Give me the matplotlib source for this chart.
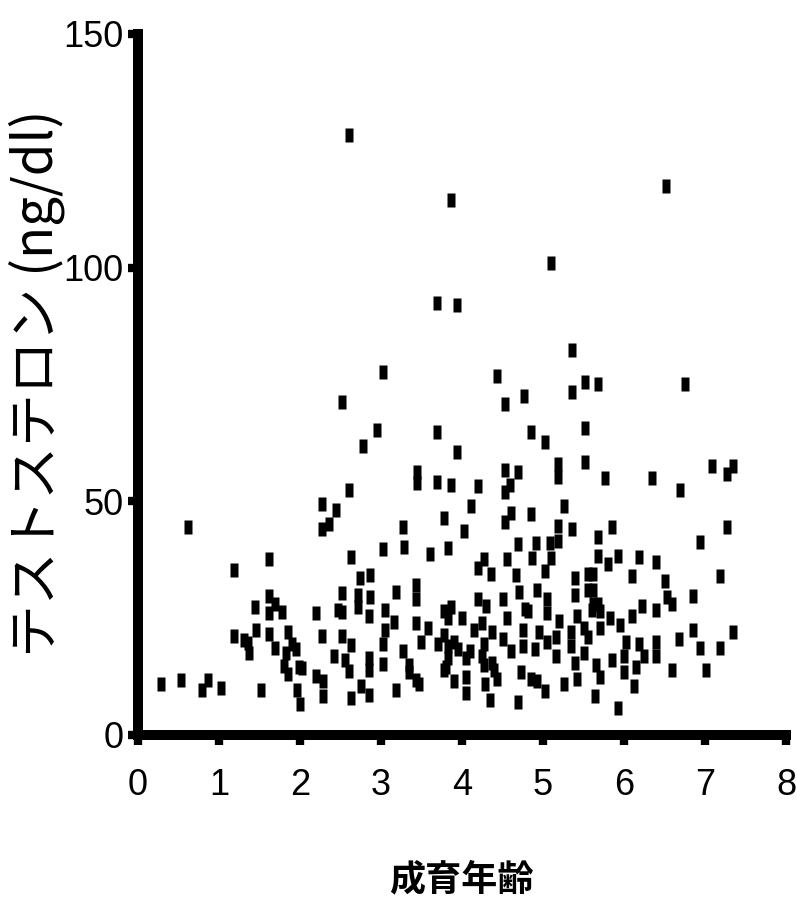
import matplotlib
matplotlib.use("Agg")
import matplotlib.pyplot as plt
import matplotlib.font_manager as fm

# ---- data ----
age = [
    2.60, 3.86, 3.69, 3.94, 3.02, 2.52, 2.95, 3.69, 2.78, 3.94, 3.44, 3.44, 3.69, 3.86, 2.60,
    6.52, 5.10, 5.36, 4.43, 5.52, 5.68, 6.75, 5.36, 4.77, 4.53, 4.85, 5.52, 5.02, 5.52, 5.19,
    5.19, 7.09, 7.35, 7.27, 4.53, 4.69, 5.77, 6.35, 4.20, 4.59, 4.53, 6.69,
    2.27, 2.44, 4.11, 4.60, 4.85, 3.78, 2.36, 2.27, 4.53, 3.27, 4.02, 0.62, 5.26, 5.19, 5.19,
    5.36, 5.85, 5.68, 7.27, 6.94, 5.09, 4.91,
    2.63, 1.62, 1.19, 3.02, 3.28, 3.60, 3.83, 4.69, 4.87, 5.10, 5.68, 4.27, 4.20, 4.36, 4.55,
    4.67, 5.02, 5.40, 5.55, 5.40, 5.55, 5.80, 5.93, 6.18, 6.10, 6.40, 6.50, 5.62, 5.62, 7.19,
    2.74, 2.86, 3.43, 3.19, 4.93,
    2.52, 1.62, 1.69, 1.44, 2.47, 2.52, 1.62, 1.78, 2.20, 2.72, 2.86, 2.72, 3.43, 2.85, 3.05,
    3.05, 3.16, 3.43, 3.58, 3.49, 3.78, 3.83, 5.60, 5.68, 4.20, 3.86, 4.00, 4.15, 4.25, 4.30,
    4.37, 4.50, 4.55, 4.70, 4.78, 4.75, 5.05, 4.82, 5.05, 5.20, 5.16, 5.34, 5.42, 5.50, 5.55,
    3.78, 3.90, 4.95, 5.05, 4.50, 6.53, 6.85, 6.59, 5.62, 5.70, 5.83, 5.70, 6.10, 6.22, 6.40,
    5.95, 6.02, 6.40, 6.68, 6.85, 7.35, 1.46, 1.19, 1.31, 1.62, 1.85, 2.27, 2.52, 3.02,
    1.36, 1.37, 1.69, 1.83, 1.95, 1.90, 1.80, 1.85, 1.99, 2.63, 2.42, 2.55, 2.60, 2.85, 2.85,
    3.02, 3.27, 3.35, 3.35, 3.47, 3.70, 3.78, 3.83, 3.83, 2.02, 3.95, 4.05, 4.10, 4.25, 4.37,
    4.27, 4.60, 4.75, 4.90, 3.80, 3.90, 4.05, 4.27, 4.40, 4.43, 4.73, 4.85, 4.92, 5.16, 5.34,
    5.40, 5.42, 5.50, 5.65, 6.00, 6.18, 6.25, 6.15, 6.40, 6.94, 7.19, 5.70, 5.85, 6.00, 6.59,
    7.01, 0.28, 0.53, 0.86, 1.02, 2.20, 2.28,
    0.79, 1.52, 1.96, 2.00, 2.63, 2.28, 2.75, 2.85, 3.19, 3.43, 4.05, 5.03, 5.26, 5.64, 4.29,
    4.35, 4.69, 6.12, 5.93,
]
testosterone = [
    128.3, 114.4, 92.5, 92.0, 77.7, 71.2, 65.2, 64.8, 61.8, 60.5, 56.2, 53.9, 54.1, 53.6, 52.4,
    117.4, 101.1, 82.4, 76.8, 75.5, 75.1, 75.1, 73.4, 72.5, 70.8, 64.8, 65.7, 62.7, 58.4, 57.9,
    55.2, 57.5, 57.5, 55.8, 56.7, 56.2, 54.9, 54.9, 53.2, 53.6, 51.9, 52.4,
    49.4, 48.1, 48.9, 47.6, 47.2, 46.4, 45.1, 44.0, 45.5, 44.6, 43.6, 44.6, 48.9, 44.8, 41.6,
    44.0, 44.6, 42.3, 44.6, 41.4, 41.0, 41.0,
    38.0, 37.6, 35.4, 39.7, 40.3, 38.8, 40.1, 40.8, 37.8, 37.8, 38.4, 37.6, 35.8, 34.5, 37.6,
    34.3, 35.0, 33.5, 34.5, 30.0, 31.0, 36.5, 38.4, 38.0, 34.0, 37.0, 33.0, 34.5, 31.0, 34.1,
    33.5, 34.3, 32.0, 30.7, 31.0,
    30.3, 29.8, 28.1, 27.3, 26.8, 26.4, 26.0, 26.4, 26.0, 30.0, 29.6, 27.3, 29.0, 25.5, 26.8,
    22.5, 24.2, 24.0, 23.0, 20.0, 26.5, 25.0, 26.8, 28.1, 29.0, 27.3, 25.0, 22.5, 24.0, 27.5,
    22.0, 29.0, 25.0, 30.5, 27.0, 22.5, 29.0, 26.5, 26.0, 24.5, 21.0, 22.0, 25.5, 23.0, 21.0,
    21.5, 20.0, 22.0, 20.0, 20.5, 29.5, 29.8, 28.1, 28.0, 26.5, 25.0, 23.0, 25.5, 27.5, 26.8,
    23.5, 20.0, 20.0, 20.5, 22.5, 22.1, 22.5, 21.2, 20.4, 21.7, 22.1, 21.2, 21.2, 19.5,
    19.6, 17.6, 18.7, 17.5, 18.5, 19.5, 14.8, 13.1, 14.6, 19.3, 17.0, 16.0, 13.8, 16.5, 14.0,
    15.2, 18.0, 15.0, 13.5, 11.0, 19.5, 14.0, 19.0, 16.5, 14.4, 18.5, 16.5, 18.0, 17.0, 15.5,
    19.5, 18.0, 19.0, 18.5, 14.5, 11.5, 12.5, 15.0, 14.0, 12.0, 13.5, 12.0, 11.5, 17.0, 19.0,
    15.5, 12.0, 17.5, 15.0, 17.0, 19.5, 17.0, 14.5, 17.0, 18.7, 18.7, 12.5, 16.1, 13.5, 13.9,
    13.9, 10.9, 11.8, 11.8, 10.1, 12.6, 11.5,
    9.7, 9.7, 9.7, 6.7, 8.0, 8.4, 10.5, 8.5, 9.7, 11.8, 9.0, 9.5, 11.0, 8.4, 11.0,
    7.5, 7.0, 10.5, 5.8,
]
x_ticks = [0, 1, 2, 3, 4, 5, 6, 7, 8]
y_ticks = [0, 50, 100, 150]
x_label = "成育年齢"
y_label = "テストステロン (ng/dl)"

# ---- fonts ----
names = {f.name for f in fm.fontManager.ttflist}
if "Liberation Sans Narrow" in names:
    tick_family, tick_size = "Liberation Sans Narrow", 30
else:
    tick_family, tick_size = "Liberation Sans", 26
cjk = ["Noto Sans CJK JP", "DejaVu Sans"]

fig = plt.figure(figsize=(7.97, 9.09), dpi=100)
W, H = 797, 909
left, right, top, bottom = 138, 786, 34, 735
ax = fig.add_axes([left / W, 1 - bottom / H, (right - left) / W, (bottom - top) / H])

rect = [(-0.31, -0.5), (0.31, -0.5), (0.31, 0.5), (-0.31, 0.5), (-0.31, -0.5)]
ax.plot(age, testosterone, ls="none", marker=rect, ms=9.6,
        mfc="black", mec="none", clip_on=False)

ax.set_xlim(0, 8)
ax.set_ylim(0, 150)
ax.set_xticks(x_ticks)
ax.set_yticks(y_ticks)
ax.set_xticklabels([str(t) for t in x_ticks], family=tick_family, fontsize=tick_size)
ax.set_yticklabels([str(t) for t in y_ticks], family=tick_family, fontsize=tick_size)

for s in ["top", "right"]:
    ax.spines[s].set_visible(False)
for s in ["left", "bottom"]:
    ax.spines[s].set_linewidth(7.2)
    ax.spines[s].set_capstyle("projecting")
    ax.spines[s].set_color("black")

ax.tick_params(axis="both", direction="out", length=7.5, width=6, color="black")
ax.tick_params(axis="y", pad=3)
ax.tick_params(axis="x", pad=16)

fig.text(461 / W, 1 - 880 / H, x_label, family=cjk, fontsize=26, fontweight="bold",
         ha="center", va="center")
fig.text(37 / W, 1 - 383 / H, y_label, family=cjk, fontsize=38, fontweight="normal",
         rotation=90, ha="center", va="center")

fig.savefig("out.png", dpi=100)
